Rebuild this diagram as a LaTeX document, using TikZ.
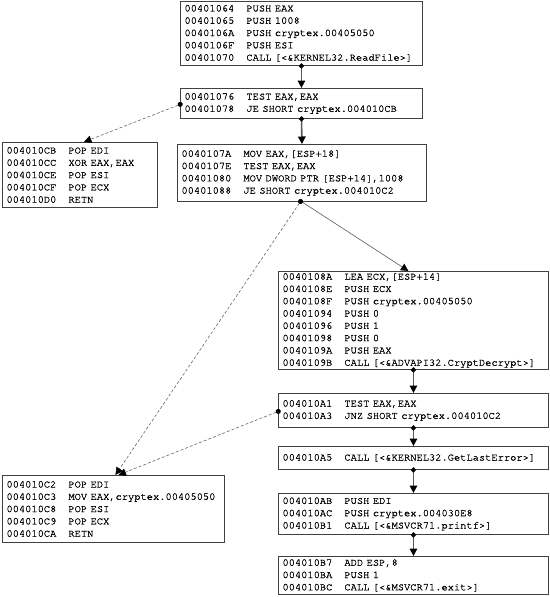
\documentclass[tikz,border=0pt]{standalone}
\usepackage{fontspec}
\usetikzlibrary{arrows.meta}
\newfontfamily\asmfont{texgyrecursor-regular.otf}[WordSpace={1,0,0},FakeBold=1]
\newcommand\ins[2]{\makebox[62pt][l]{#1}#2}

\begin{document}
\begin{tikzpicture}[x=1pt,y=-1pt,
	blk/.style={draw=black!75, line width=0.9pt, anchor=north west, inner xsep=4pt, inner ysep=0pt, align=left, font=\asmfont\fontsize{10.4}{12.3}\selectfont},
	flow/.style={draw=black!65, line width=1.6pt, {Circle[length=5pt,color=black]}-{Triangle[width=7.5pt,length=7.5pt,color=black]}},
	jump/.style={draw=black!60, line width=0.6pt, dash pattern=on 3pt off 2pt, {Circle[length=5pt,color=black]}-{Triangle[width=7.5pt,length=7.5pt,color=black]}},
	side/.style={draw=black!65, line width=0.6pt, -{Triangle[width=7.5pt,length=7.5pt,color=black]}}]
	\useasboundingbox (0,0) rectangle (549,597);

	\node at (180,1) [blk, text width=234pt, minimum height=64pt] (b1064) {\ins{00401064}{PUSH EAX}\\ \ins{00401065}{PUSH 1008}\\ \ins{0040106A}{PUSH cryptex.00405050}\\ \ins{0040106F}{PUSH ESI}\\ \ins{00401070}{CALL [<\&KERNEL32.ReadFile>]}};
	\node at (180,88) [blk, text width=234pt, minimum height=30pt] (b1076) {\ins{00401076}{TEST EAX,EAX}\\ \ins{00401078}{JE SHORT cryptex.004010CB}};
	\node at (2,142) [blk, text width=147pt, minimum height=65pt] (b10CB) {\ins{004010CB}{POP EDI}\\ \ins{004010CC}{XOR EAX,EAX}\\ \ins{004010CE}{POP ESI}\\ \ins{004010CF}{POP ECX}\\ \ins{004010D0}{RETN}};
	\node at (177,144) [blk, text width=241pt, minimum height=57pt] (b107A) {\ins{0040107A}{MOV EAX,[ESP+18]}\\ \ins{0040107E}{TEST EAX,EAX}\\ \ins{00401080}{MOV DWORD PTR [ESP+14],1008}\\ \ins{00401088}{JE SHORT cryptex.004010C2}};
	\node at (278,271) [blk, text width=262pt, minimum height=98pt] (b108A) {\ins{0040108A}{LEA ECX,[ESP+14]}\\ \ins{0040108E}{PUSH ECX}\\ \ins{0040108F}{PUSH cryptex.00405050}\\ \ins{00401094}{PUSH 0}\\ \ins{00401096}{PUSH 1}\\ \ins{00401098}{PUSH 0}\\ \ins{0040109A}{PUSH EAX}\\ \ins{0040109B}{CALL [<\&ADVAPI32.CryptDecrypt>]}};
	\node at (278,393) [blk, text width=262pt, minimum height=34pt] (b10A1) {\ins{004010A1}{TEST EAX,EAX}\\ \ins{004010A3}{JNZ SHORT cryptex.004010C2}};
	\node at (278,446) [blk, text width=262pt, minimum height=23pt] (b10A5) {\ins{004010A5}{CALL [<\&KERNEL32.GetLastError>]}};
	\node at (278,493) [blk, text width=262pt, minimum height=41pt] (b10AB) {\ins{004010AB}{PUSH EDI}\\ \ins{004010AC}{PUSH cryptex.004030E8}\\ \ins{004010B1}{CALL [<\&MSVCR71.printf>]}};
	\node at (278,556) [blk, text width=262pt, minimum height=38pt] (b10B7) {\ins{004010B7}{ADD ESP,8}\\ \ins{004010BA}{PUSH 1}\\ \ins{004010BC}{CALL [<\&MSVCR71.exit>]}};
	\node at (2,475) [blk, text width=214pt, minimum height=67pt] (b10C2) {\ins{004010C2}{POP EDI}\\ \ins{004010C3}{MOV EAX,cryptex.00405050}\\ \ins{004010C8}{POP ESI}\\ \ins{004010C9}{POP ECX}\\ \ins{004010CA}{RETN}};

	\draw [flow] ([yshift=2.5pt]b1064.south) -- (b1076.north);
	\draw [flow] ([yshift=2.5pt]b1076.south) -- (b107A.north);
	\draw [jump] ([xshift=2.5pt]b1076.west) -- ([xshift=4pt]b10CB.north);
	\draw [side] (b107A.south) -- ([xshift=-5pt]b108A.north);
	\draw [jump] ([yshift=2.5pt]b107A.south) -- ([xshift=2pt]b10C2.north);
	\draw [flow] ([yshift=2.5pt]b108A.south) -- (b10A1.north);
	\draw [jump] ([xshift=2.5pt]b10A1.west) -- ([xshift=5pt]b10C2.north);
	\draw [flow] ([yshift=2.5pt]b10A1.south) -- (b10A5.north);
	\draw [flow] ([yshift=2.5pt]b10A5.south) -- (b10AB.north);
	\draw [flow] ([yshift=2.5pt]b10AB.south) -- (b10B7.north);
\end{tikzpicture}
\end{document}
